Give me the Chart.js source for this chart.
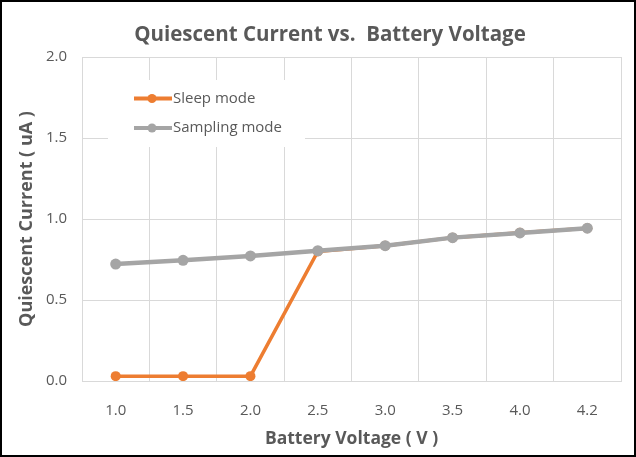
<!DOCTYPE html>
<html>
<head>
<meta charset="utf-8">
<script src="https://cdn.jsdelivr.net/npm/chart.js@4/dist/chart.umd.min.js"></script>
<style>
  html, body { margin: 0; padding: 0; background: #fff; }
  #box { width: 636px; height: 457px; box-sizing: border-box; border: 2px solid #000; background: #fff; }
  #wrap { width: 632px; height: 453px; position: relative; }
</style>
</head>
<body>
<div id="box"><div id="wrap"><canvas id="chart"></canvas></div></div>
<script>
/* ===== dados ===== */
const voltages  = ['1.0', '1.5', '2.0', '2.5', '3.0', '3.5', '4.0', '4.2'];
const sleepMode = [0.03, 0.03, 0.03, 0.80, 0.835, 0.885, 0.915, 0.943];
const sampMode  = [0.722, 0.745, 0.772, 0.804, 0.835, 0.885, 0.914, 0.943];
const yTicks    = [0, 0.5, 1.0, 1.5, 2.0];
const titulo    = 'Quiescent Current vs.  Battery Voltage';

const cinza = '#595959';
const grade = '#d9d9d9';
const fonte = "'Open Sans', sans-serif";

/* título + legenda desenhados à mão (posição igual ao original) */
const extras = {
  id: 'extras',
  afterDraw(chart) {
    const ctx = chart.ctx;
    ctx.save();
    ctx.fillStyle = cinza;
    ctx.font = 'bold 20.5px ' + fonte;
    ctx.textAlign = 'center';
    ctx.textBaseline = 'middle';
    ctx.fillText(titulo, 328, 33);

    ctx.fillStyle = '#fff';
    ctx.fillRect(106, 78, 197, 67);
    ctx.textAlign = 'left';
    chart.data.datasets.forEach((ds, i) => {
      const y = 96.5 + i * 29.5;
      ctx.strokeStyle = ds.borderColor;
      ctx.lineWidth = 4;
      ctx.beginPath(); ctx.moveTo(132, y); ctx.lineTo(170, y); ctx.stroke();
      ctx.fillStyle = ds.borderColor;
      ctx.beginPath(); ctx.arc(150, y, 4.5, 0, Math.PI * 2); ctx.fill();
      ctx.fillStyle = cinza;
      ctx.font = '15px ' + fonte;
      ctx.fillText(ds.label, 171, y);
    });
    ctx.restore();
  }
};

new Chart(document.getElementById('chart'), {
  type: 'line',
  data: {
    labels: voltages,
    datasets: [
      { label: 'Sleep mode', data: sleepMode, borderColor: '#ED7D31', backgroundColor: '#ED7D31',
        borderWidth: 3.5, pointRadius: 5, pointHoverRadius: 5, pointBorderWidth: 0, order: 1 },
      { label: 'Sampling mode', data: sampMode, borderColor: '#A5A5A5', backgroundColor: '#A5A5A5',
        borderWidth: 4.5, pointRadius: 5.5, pointHoverRadius: 5.5, pointBorderWidth: 0, order: 0 }
    ]
  },
  options: {
    responsive: true,
    maintainAspectRatio: false,
    animation: false,
    layout: { padding: { left: 0, right: 13, top: 55, bottom: 0 } },
    plugins: {
      legend: { display: false },
      tooltip: { enabled: false },
      title: { display: false }
    },
    scales: {
      x: {
        offset: true,
        grid: { offset: true, color: grade, drawTicks: false },
        border: { color: grade },
        ticks: { color: cinza, font: { family: fonte, size: 15 }, padding: 21 },
        title: { display: true, text: 'Battery Voltage ( V )', color: cinza,
                 font: { family: fonte, size: 17.5, weight: 'bold' }, padding: { top: 0, bottom: 5 } },
        afterFit(s) { s.height = 74; }
      },
      y: {
        min: 0, max: 2,
        afterBuildTicks(s) { s.ticks = yTicks.map(v => ({ value: v })); },
        grid: { color: grade, drawTicks: false },
        border: { color: grade },
        ticks: { color: cinza, font: { family: fonte, size: 15 }, padding: 15,
                 callback: v => v.toFixed(1) },
        title: { display: true, text: 'Quiescent Current ( uA )', color: cinza,
                 font: { family: fonte, size: 18, weight: 'bold' }, padding: { top: 14, bottom: 0 } },
        afterFit(s) { s.width = 80; }
      }
    }
  },
  plugins: [extras]
});
</script>
</body>
</html>
